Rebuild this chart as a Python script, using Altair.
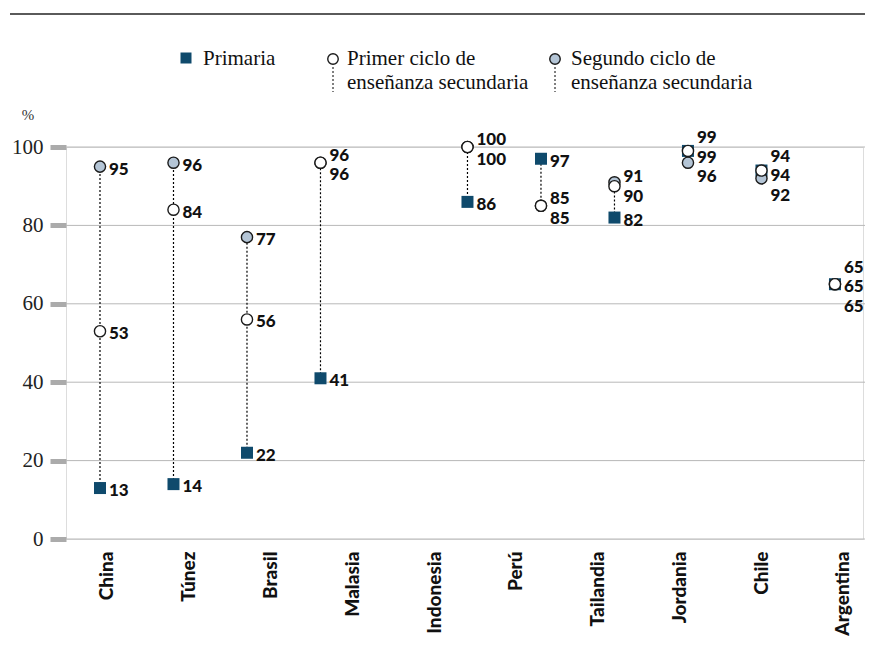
import altair as alt
import pandas as pd

# ---- data ----
slots = ["China", "Túnez", "Brasil", "Malasia", "_", "Indonesia", "Perú",
         "Tailandia", "Jordania", "Chile", "Argentina"]
countries = ["China", "Túnez", "Brasil", "Malasia", "Indonesia", "Perú",
             "Tailandia", "Jordania", "Chile", "Argentina"]
primaria = [13, 14, 22, 41, None, 86, 97, 82, 99, 94, 65]
primer_ciclo = [53, 84, 56, 96, None, 100, 85, 90, 99, 94, 65]
segundo_ciclo = [95, 96, 77, 96, None, 100, 85, 91, 96, 92, 65]
y_ticks = [0, 20, 40, 60, 80, 100]

series_names = ["Primaria", "Segundo", "Primer"]
series_vals = {"Primaria": primaria, "Segundo": segundo_ciclo, "Primer": primer_ciclo}

NAVY = "#0f4a6c"
BLUEGREY = "#b4c5d6"
SPACING = 5.0  # minimum label separation in value units


def spread(items):
    """items: list of (value, key) -> dict key -> label position (value units)."""
    items = sorted(items, key=lambda t: -t[0])
    clusters = [[it] for it in items]

    def layout(cl):
        c = sum(v for v, _ in cl) / len(cl)
        n = len(cl)
        return [c + SPACING * ((n - 1) / 2 - i) for i in range(n)]

    changed = True
    while changed:
        changed = False
        for i in range(len(clusters) - 1):
            a = layout(clusters[i])
            b = layout(clusters[i + 1])
            if a[-1] - b[0] < SPACING - 1e-9:
                clusters[i] = clusters[i] + clusters[i + 1]
                del clusters[i + 1]
                changed = True
                break
    out = {}
    for cl in clusters:
        for (v, k), pos in zip(cl, layout(cl)):
            out[k] = pos
    return out


rows, rule_rows = [], []
for i, s in enumerate(slots):
    vals = {k: series_vals[k][i] for k in series_names}
    if any(v is None for v in vals.values()):
        continue
    pos = spread([(v, k) for k, v in vals.items()])
    for k, v in vals.items():
        rows.append({"slot": s, "series": k, "value": v, "label_y": pos[k], "label": str(v)})
    rule_rows.append({"slot": s, "lo": min(vals.values()), "hi": max(vals.values())})

df = pd.DataFrame(rows)
rules_df = pd.DataFrame(rule_rows)
country_df = pd.DataFrame({"country": countries})
grid_df = pd.DataFrame({"tick": y_ticks})

W, H = 797, 392

# ---- scales / axes ----
x_slot = alt.X("slot:N", scale=alt.Scale(type="point", domain=slots, padding=0.422, align=0.548),
               axis=None, title=None)
y_axis = alt.Axis(values=y_ticks, grid=False,
                  domain=False, ticks=True, tickSize=16, tickWidth=5, tickColor="#ababab",
                  tickCap="butt", labelFont="Liberation Serif", labelFontSize=21,
                  labelColor="#222222", labelPadding=7, title=None)
y_scale = alt.Scale(domain=[0, 100], nice=False, zero=True)

grid = alt.Chart(grid_df).mark_rule(color="#b8b8b8", strokeWidth=1).encode(
    y=alt.Y("tick:Q", scale=y_scale, axis=y_axis, title=None),
    x=alt.value(0), x2=alt.value(W + 2),
)

base = alt.Chart(df)

rules = alt.Chart(rules_df).mark_rule(color="black", strokeWidth=1.2, strokeDash=[2, 2]).encode(
    x=x_slot,
    y=alt.Y("lo:Q", scale=y_scale, axis=y_axis, title=None),
    y2="hi:Q",
)

pts_prim = base.transform_filter(alt.datum.series == "Primaria").mark_point(
    shape="square", filled=True, size=144, color=NAVY, opacity=1
).encode(x=x_slot, y=alt.Y("value:Q", scale=y_scale, axis=y_axis, title=None))

pts_seg = base.transform_filter(alt.datum.series == "Segundo").mark_point(
    shape="circle", filled=True, fill=BLUEGREY, stroke="#1a1a1a", strokeWidth=1.4, size=125, opacity=1
).encode(x=x_slot, y=alt.Y("value:Q", scale=y_scale, axis=y_axis, title=None))

pts_pri = base.transform_filter(alt.datum.series == "Primer").mark_point(
    shape="circle", filled=True, fill="white", stroke="#1a1a1a", strokeWidth=1.4, size=125, opacity=1
).encode(x=x_slot, y=alt.Y("value:Q", scale=y_scale, axis=y_axis, title=None))

labels = base.mark_text(align="left", baseline="middle", dx=9, dy=3, font="Lato",
                        fontWeight=900, fontSize=17, color="#111111").encode(
    x=x_slot,
    y=alt.Y("label_y:Q", scale=y_scale, axis=y_axis, title=None),
    text="label:N",
)

country_axis = alt.Chart(country_df).mark_point(opacity=0).encode(
    x=alt.X("country:N",
            scale=alt.Scale(type="point", domain=countries, padding=0.373, align=0.672),
            axis=alt.Axis(orient="bottom", labelAngle=270, labelAlign="right",
                          labelBaseline="middle", labelFont="Lato", labelFontWeight=900,
                          labelFontSize=19, labelColor="#111111", labelPadding=12,
                          ticks=False, domain=False, grid=False, labelOverlap=False, title=None),
            title=None)
)

# ---- decorations: top rule, % and legend ----
one = pd.DataFrame({"k": [0]})
deco = alt.Chart(one)
top_rule = deco.mark_rule(color="#5a5a5a", strokeWidth=2).encode(
    x=alt.value(-56), x2=alt.value(W + 2), y=alt.value(-133))
pct = deco.mark_text(font="Liberation Serif", fontSize=15, color="#333", align="center",
                     baseline="middle").encode(x=alt.value(-38), y=alt.value(-32), text=alt.value("%"))

LEG_FS = 21
leg_sq = deco.mark_point(shape="square", filled=True, size=121, color=NAVY, opacity=1).encode(
    x=alt.value(120), y=alt.value(-89))
leg_t1 = deco.mark_text(font="Liberation Serif", fontSize=LEG_FS, color="#111", align="left",
                        baseline="alphabetic").encode(
    x=alt.value(137), y=alt.value(-82), text=alt.value("Primaria"))

leg_c1_line = deco.mark_rule(color="black", strokeWidth=1, strokeDash=[2, 2]).encode(
    x=alt.value(267), y=alt.value(-80), y2=alt.value(-55))
leg_c1 = deco.mark_point(shape="circle", filled=True, fill="white", stroke="#1a1a1a",
                         strokeWidth=1.4, size=110, opacity=1).encode(x=alt.value(267), y=alt.value(-88))
leg_t2 = deco.mark_text(font="Liberation Serif", fontSize=LEG_FS, color="#111", align="left",
                        baseline="alphabetic", lineHeight=24).encode(
    x=alt.value(281), y=alt.value(-82), text=alt.value(["Primer ciclo de", "enseñanza secundaria"]))

leg_c2_line = deco.mark_rule(color="black", strokeWidth=1, strokeDash=[2, 2]).encode(
    x=alt.value(489), y=alt.value(-80), y2=alt.value(-55))
leg_c2 = deco.mark_point(shape="circle", filled=True, fill=BLUEGREY, stroke="#1a1a1a",
                         strokeWidth=1.4, size=110, opacity=1).encode(x=alt.value(489), y=alt.value(-88))
leg_t3 = deco.mark_text(font="Liberation Serif", fontSize=LEG_FS, color="#111", align="left",
                        baseline="alphabetic", lineHeight=24).encode(
    x=alt.value(505), y=alt.value(-82), text=alt.value(["Segundo ciclo de", "enseñanza secundaria"]))

chart = alt.layer(
    grid, rules, pts_prim, pts_seg, pts_pri, labels, country_axis,
    top_rule, pct, leg_sq, leg_t1, leg_c1_line, leg_c1, leg_t2, leg_c2_line, leg_c2, leg_t3,
).resolve_scale(x="independent").properties(
    width=W, height=H,
    autosize=alt.AutoSizeParams(type="none"),
    padding={"left": 58, "top": 139, "right": 2, "bottom": 97},
).configure_view(stroke=None).configure(background="white")

chart.save("out.html", embed_options={"renderer": "svg", "actions": False})
